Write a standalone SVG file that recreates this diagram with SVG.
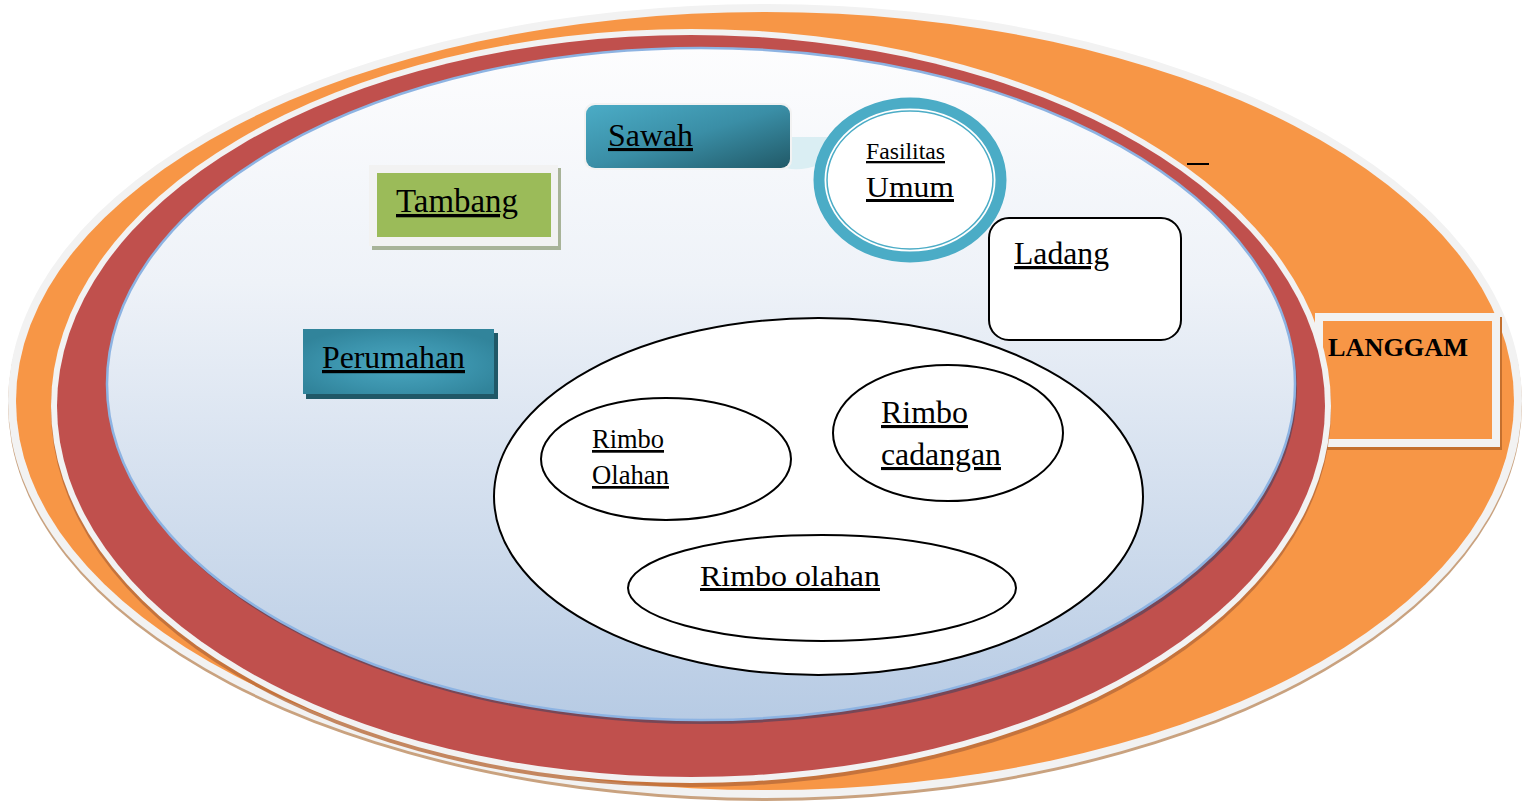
<svg xmlns="http://www.w3.org/2000/svg" width="1531" height="803" viewBox="0 0 1531 803">
<defs>
<linearGradient id="gInner" x1="0" y1="0" x2="0" y2="1">
<stop offset="0" stop-color="#fdfdfe"/>
<stop offset="0.35" stop-color="#eef2f8"/>
<stop offset="1" stop-color="#b7cbe4"/>
</linearGradient>
<linearGradient id="gSawah" x1="0" y1="0" x2="1" y2="1">
<stop offset="0" stop-color="#4bacc6"/>
<stop offset="0.5" stop-color="#3a8ea6"/>
<stop offset="1" stop-color="#215967"/>
</linearGradient>
<radialGradient id="gPer" cx="0.5" cy="0.55" r="0.6">
<stop offset="0" stop-color="#4aa7c0"/>
<stop offset="0.6" stop-color="#3b93ac"/>
<stop offset="1" stop-color="#31849b"/>
</radialGradient>
</defs>
<style>
text{font-family:"Liberation Serif","Times New Roman",serif;fill:#000;text-decoration:underline}
.t32{font-size:32px}
.bold{font-weight:bold;text-decoration:none;font-size:26px}
.bub{fill:#fff;stroke:#000;stroke-width:2}
</style>
<rect width="1531" height="803" fill="#fff"/>
<g id="outer-ring">
<ellipse cx="765" cy="404" rx="757" ry="397" fill="#c9a27f"/>
<ellipse cx="765" cy="401" rx="757" ry="397" fill="#f2f2f2"/>
<ellipse cx="765" cy="401" rx="749" ry="389" fill="#f79646"/>
</g>
<g id="langgam">
<rect x="1319" y="317" width="183" height="133" fill="#c4702e"/>
<rect x="1315" y="313" width="185" height="134" fill="#f2f2f2"/>
<rect x="1323" y="321" width="169" height="118" fill="#f79646"/>
<text x="1328" y="356" class="bold" textLength="140" lengthAdjust="spacingAndGlyphs">LANGGAM</text>
</g>
<g id="middle-ring">
<ellipse cx="691" cy="410" rx="640" ry="377" fill="#b86a3a" opacity="0.8"/>
<ellipse cx="691" cy="406" rx="640" ry="377" fill="#f2f2f2"/>
<ellipse cx="691" cy="406" rx="634" ry="371" fill="#c0504d"/>
</g>
<g id="inner-area">
<ellipse cx="703" cy="388" rx="594" ry="336" fill="#6b4558" opacity="0.85"/>
<ellipse cx="701" cy="384" rx="594" ry="336" fill="url(#gInner)" stroke="#8db3e2" stroke-width="2.5"/>
</g>
<line x1="1187" y1="164" x2="1209" y2="164" stroke="#000" stroke-width="2"/>
<g id="tambang">
<rect x="372" y="168" width="189" height="82" fill="#a8b398"/>
<rect x="369" y="165" width="189" height="81" fill="#f2f2f2"/>
<rect x="377" y="173" width="174" height="64" fill="#9bbb59"/>
<text x="396" y="212" style="font-size:33px" textLength="122" lengthAdjust="spacingAndGlyphs">Tambang</text>
</g>
<g id="perumahan">
<rect x="306" y="333" width="192" height="66" fill="#205867"/>
<rect x="303" y="329" width="191" height="65" fill="url(#gPer)"/>
<text x="322" y="368" class="t32" textLength="143" lengthAdjust="spacingAndGlyphs">Perumahan</text>
</g>
<g id="sawah">
<path d="M786,137 L830,137 Q818,150 822,164 Q800,172 786,168 Z" fill="#daeef3"/>
<rect x="584" y="103" width="208" height="67" rx="10" fill="#f2f2f2"/>
<rect x="586" y="105" width="204" height="63" rx="9" fill="url(#gSawah)"/>
<text x="608" y="146" style="font-size:31px" textLength="85" lengthAdjust="spacingAndGlyphs">Sawah</text>
</g>
<g id="fasilitas-umum">
<ellipse cx="910" cy="180" rx="91" ry="77" fill="#fff" stroke="#4bacc6" stroke-width="11"/>
<ellipse cx="910" cy="180" rx="83" ry="69" fill="#fff" stroke="#4bacc6" stroke-width="1.5"/>
<text x="866" y="159" style="font-size:23px" textLength="79" lengthAdjust="spacingAndGlyphs">Fasilitas</text>
<text x="866" y="197" style="font-size:30px" textLength="88" lengthAdjust="spacingAndGlyphs">Umum</text>
</g>
<g id="ladang">
<rect x="989" y="218" width="192" height="122" rx="20" class="bub"/>
<text x="1014" y="264" class="t32" textLength="95" lengthAdjust="spacingAndGlyphs">Ladang</text>
</g>
<g id="rimbo-area">
<ellipse cx="818.5" cy="496.5" rx="324.5" ry="178.5" class="bub"/>
</g>
<g id="rimbo-olahan-1">
<ellipse cx="666" cy="459" rx="125" ry="61" class="bub"/>
<text x="592" y="448" style="font-size:27px" textLength="72" lengthAdjust="spacingAndGlyphs">Rimbo</text>
<text x="592" y="484" style="font-size:27px" textLength="77" lengthAdjust="spacingAndGlyphs">Olahan</text>
</g>
<g id="rimbo-cadangan">
<ellipse cx="948" cy="433" rx="115" ry="68" class="bub"/>
<text x="881" y="423" style="font-size:31px" textLength="87" lengthAdjust="spacingAndGlyphs">Rimbo</text>
<text x="881" y="465" style="font-size:31px" textLength="120" lengthAdjust="spacingAndGlyphs">cadangan</text>
</g>
<g id="rimbo-olahan-2">
<ellipse cx="822" cy="588" rx="194" ry="53" class="bub"/>
<text x="700" y="586" style="font-size:30px" textLength="180" lengthAdjust="spacingAndGlyphs">Rimbo olahan</text>
</g>
<g id="connectors"></g>
</svg>
